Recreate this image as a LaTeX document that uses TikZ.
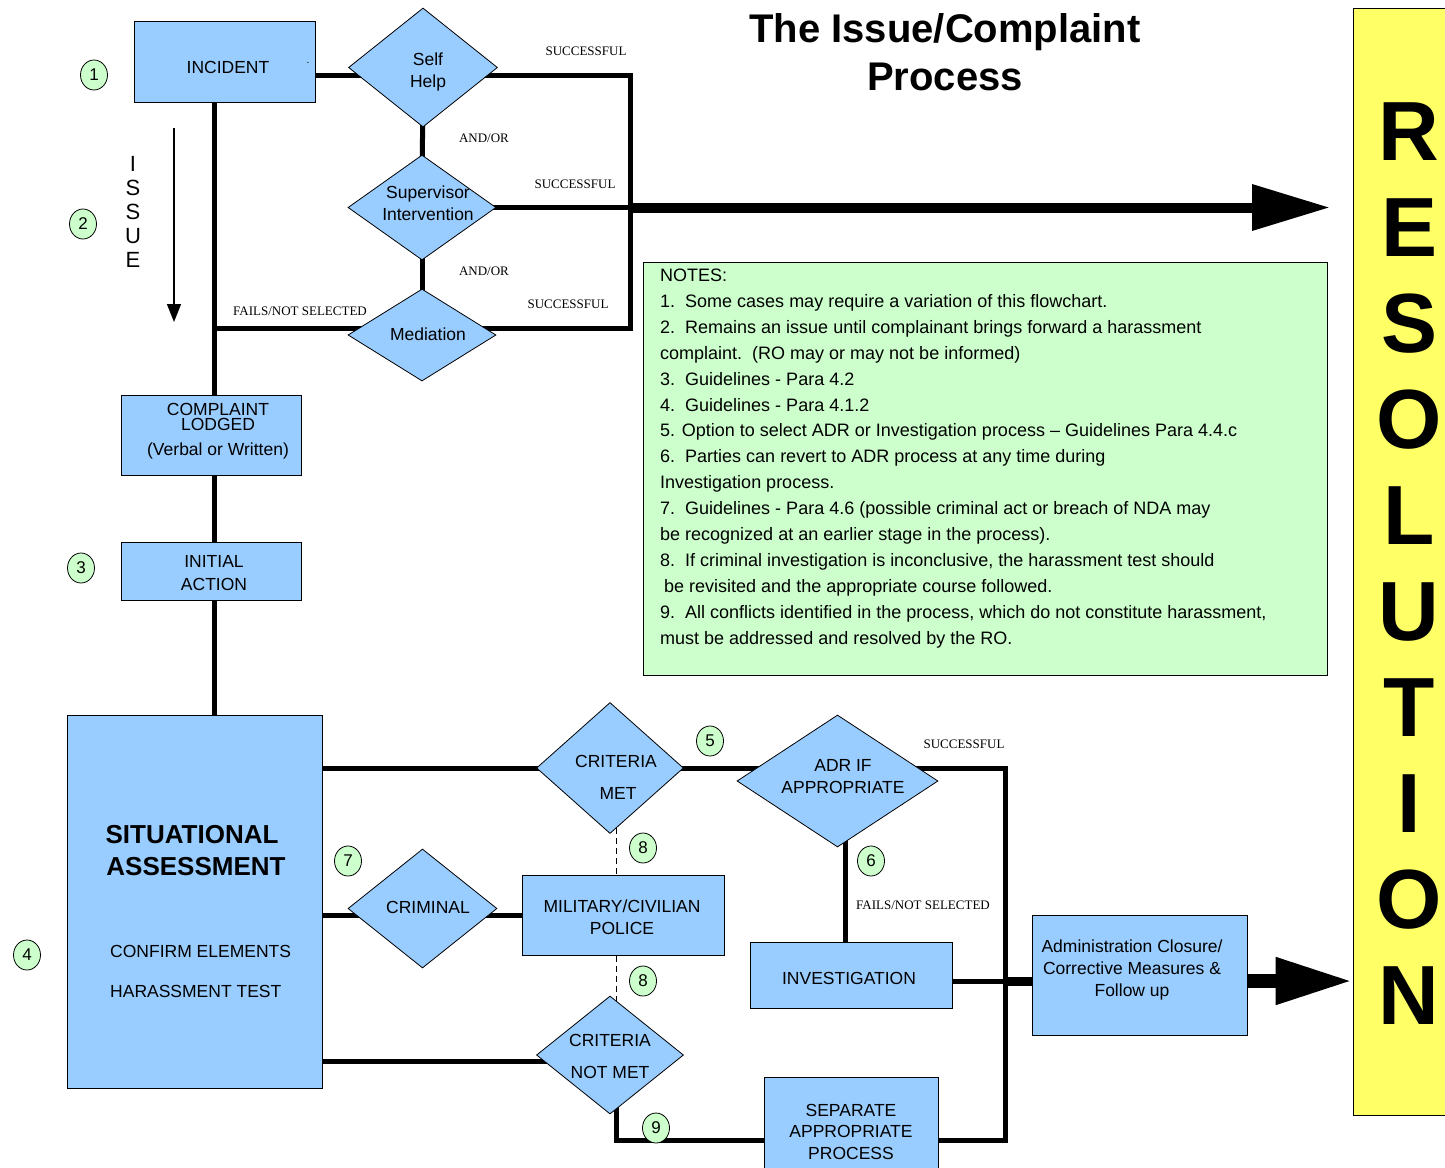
\documentclass[tikz,border=0pt]{standalone}
\usepackage{fontspec}
\setmainfont{Liberation Sans}
\newfontfamily\serifl{Liberation Serif}
\usetikzlibrary{shapes.geometric,arrows.meta,calc}
\definecolor{boxblue}{HTML}{99CCFF}
\definecolor{notegreen}{HTML}{CCFFCC}
\definecolor{resyellow}{HTML}{FFFF66}
\pgfdeclarelayer{bg}
\pgfsetlayers{bg,main}
\begin{document}
\begin{tikzpicture}[x=1pt,y=-1pt,
  boxnode/.style={draw, fill=boxblue, line width=1pt, inner sep=0pt},
  dia/.style={diamond, draw, fill=boxblue, line width=0.8pt, inner sep=0pt},
  txt/.style={font=\fontsize{17.5}{20}\selectfont, inner sep=0pt, anchor=base},
  bigtxt/.style={font=\bfseries\fontsize{26}{30}\selectfont, inner sep=0pt, anchor=base},
  small/.style={font=\serifl\fontsize{13}{15}\selectfont, inner sep=0pt, anchor=base},
  num/.style={ellipse, draw, fill=notegreen, line width=0.8pt, minimum width=27pt, minimum height=30pt, inner sep=0pt, font=\fontsize{17}{19}\selectfont},
  notetxt/.style={font=\fontsize{18}{20}\selectfont, inner sep=0pt, anchor=base west},
  reslet/.style={font=\bfseries\fontsize{84}{90}\selectfont, inner sep=0pt, anchor=base},
  conn/.style={line width=5pt, line join=miter},
]
\useasboundingbox (0,0) rectangle (1445,1167);

% ---------- boxes ----------
\node[boxnode, minimum width=181pt, minimum height=81pt] (inc) at (224.5,61.5) {};
\node[boxnode, minimum width=180pt, minimum height=80pt] (cl) at (211,435) {};
\node[boxnode, minimum width=180pt, minimum height=58pt] (ia) at (211,571) {};
\node[boxnode, minimum width=255pt, minimum height=373pt] (sa) at (194.5,901.5) {};
\node[boxnode, minimum width=202pt, minimum height=80pt] (mil) at (623,915) {};
\node[boxnode, minimum width=202pt, minimum height=66pt] (inv) at (851,975) {};
\node[boxnode, minimum width=215pt, minimum height=120pt] (adm) at (1139.5,975) {};
\node[boxnode, minimum width=174pt, minimum height=100pt] (sep) at (851,1127) {};
\node[draw, fill=notegreen, line width=1pt, inner sep=0pt, minimum width=684pt, minimum height=413pt] (notes) at (985,468.5) {};
\node[draw, fill=resyellow, line width=1pt, inner sep=0pt, minimum width=100pt, minimum height=1107pt] (res) at (1403,561.5) {};

% ---------- diamonds ----------
\node[dia, minimum width=149pt, minimum height=119pt] (sh) at (423,67.5) {};
\node[dia, minimum width=148pt, minimum height=105pt] (sv) at (422,207.5) {};
\node[dia, minimum width=148pt, minimum height=92pt] (med) at (422,335) {};
\node[dia, minimum width=147pt, minimum height=131pt] (cm) at (610,768) {};
\node[dia, minimum width=201pt, minimum height=132pt] (adr) at (837.5,781) {};
\node[dia, minimum width=149pt, minimum height=119pt] (crim) at (422.5,908.5) {};
\node[dia, minimum width=147pt, minimum height=118pt] (cnm) at (610,1055) {};

% ---------- junction coordinates ----------
\coordinate (j1) at (630,75);
\coordinate (j3) at (630,328);
\coordinate (a1) at (1330,207.5);
\coordinate (j5) at (1005,768);
\coordinate (j6) at (1005,1140);
\coordinate (j8) at (1005,981);
\coordinate (j9) at (537,1061);
\coordinate (j10) at (616,1140);
\coordinate (xv) at (845,900);
\coordinate (xl) at (214,300);
\coordinate (it) at (174,128);
\coordinate (ib) at (174,322);

% ---------- connectors ----------
\begin{pgfonlayer}{bg}
\draw[conn] (inc.east |- j1) -- (j1) -- (j3) -- (xl |- j3);
\draw[conn] (sv.center) -- (sv.center -| j1);
\draw[line width=10pt, -{Triangle[length=78pt,width=44pt]}] (sv.center -| j1) -- (a1);
\draw[conn] (sh.center) -- (sv.center);
\draw[conn] (sv.center) -- (med.center);
\draw[conn] (xl |- inc.south) -- (xl |- cl.north);
\draw[conn] (xl |- cl.south) -- (xl |- ia.north);
\draw[conn] (xl |- ia.south) -- (xl |- sa.north);
\draw[conn] (sa.east |- cm.center) -- (cm.center) -- (j5) -- (j6) -- (sep.east |- j6);
\draw[conn] (xv |- adr.center) -- (xv |- inv.north);
\draw[conn] (inv.east |- j8) -- (j8);
\draw[line width=9pt] (j8) -- (adm.west |- j8);
\draw[line width=14pt, -{Triangle[length=77pt,width=44pt]}] (adm.east |- j8) -- (res.west |- j8);
\draw[conn] (sa.east |- mil.west) -- (mil.west);
\draw[conn] (sa.east |- j9) -- (cnm.center |- j9);
\draw[conn] (j10 |- cnm.center) -- (j10) -- (sep.west |- j10);
\draw[line width=1pt, dash pattern=on 6pt off 4pt] (j10 |- cm.center) -- (j10 |- mil.north);
\draw[line width=1pt, dash pattern=on 6pt off 4pt] (j10 |- mil.south) -- (j10 |- cnm.center);
\end{pgfonlayer}
\draw[line width=1.2pt, -{Triangle[length=18pt,width=14pt]}] (it) -- (ib);

% ---------- texts ----------
\node[font=\bfseries\fontsize{40}{48}\selectfont, inner sep=0pt, anchor=base] (title1) at (945,42) {The Issue/Complaint};
\node[font=\bfseries\fontsize{40}{48}\selectfont, inner sep=0pt, anchor=base] (title2) at (945,90) {Process};

\node[txt] (inc-t) at (228,73) {INCIDENT};
\node[font=\fontsize{10}{12}\selectfont, inner sep=0pt, anchor=base] (dot) at (308,63) {.};
\node[txt] (sh-t1) at (428,65) {Self};
\node[txt] (sh-t2) at (428,87) {Help};
\node[txt] (sv-t1) at (428,198) {Supervisor};
\node[txt] (sv-t2) at (428,220) {Intervention};
\node[txt] (med-t) at (428,340) {Mediation};
\node[txt] (cl-t1) at (218,415) {COMPLAINT};
\node[txt] (cl-t2) at (218,430) {LODGED};
\node[txt] (cl-t3) at (218,455) {(Verbal or Written)};
\node[txt] (ia-t1) at (214,567) {INITIAL};
\node[txt] (ia-t2) at (214,590) {ACTION};
\node[bigtxt] (sa-t1) at (192,843.5) {SITUATIONAL};
\node[bigtxt] (sa-t2) at (196,875.5) {ASSESSMENT};
\node[txt, anchor=base west] (sa-t3) at (110,957) {CONFIRM ELEMENTS};
\node[txt, anchor=base west] (sa-t4) at (110,997) {HARASSMENT TEST};
\node[txt] (cm-t1) at (616,767) {CRITERIA};
\node[txt] (cm-t2) at (618,799) {MET};
\node[txt] (adr-t1) at (843,771) {ADR IF};
\node[txt] (adr-t2) at (843,793) {APPROPRIATE};
\node[txt] (crim-t) at (428,913) {CRIMINAL};
\node[txt] (mil-t1) at (622,912) {MILITARY/CIVILIAN};
\node[txt] (mil-t2) at (622,934) {POLICE};
\node[txt] (inv-t) at (849,984) {INVESTIGATION};
\node[txt] (adm-t1) at (1132,952) {Administration Closure/};
\node[txt] (adm-t2) at (1132,974) {Corrective Measures \&};
\node[txt] (adm-t3) at (1132,996) {Follow up};
\node[txt] (cnm-t1) at (610,1046) {CRITERIA};
\node[txt] (cnm-t2) at (610,1078) {NOT MET};
\node[txt] (sep-t1) at (851,1116) {SEPARATE};
\node[txt] (sep-t2) at (851,1137) {APPROPRIATE};
\node[txt] (sep-t3) at (851,1159) {PROCESS};

\foreach \l/\y [count=\i] in {I/163,S/187,S/211,U/235,E/259}
  \node[font=\fontsize{22}{24}\selectfont, inner sep=0pt, anchor=base] (issue\i) at (133,\y+8) {\l};

\node[small] (s1) at (586,55) {SUCCESSFUL};
\node[small] (s2) at (575,188) {SUCCESSFUL};
\node[small] (s3) at (568,308) {SUCCESSFUL};
\node[small] (s4) at (964,748) {SUCCESSFUL};
\node[small] (ao1) at (484,142) {AND/OR};
\node[small] (ao2) at (484,275) {AND/OR};
\node[small] (f1) at (300,315) {FAILS/NOT SELECTED};
\node[small] (f2) at (923,909) {FAILS/NOT SELECTED};

\node[num] (n1) at (94,75) {1};
\node[num] (n2) at (83,224) {2};
\node[num] (n3) at (81,568) {3};
\node[num] (n4) at (27,955) {4};
\node[num] (n5) at (710,741) {5};
\node[num] (n6) at (871,861) {6};
\node[num] (n7) at (348,861) {7};
\node[num] (n8a) at (643,848) {8};
\node[num] (n8b) at (643,981) {8};
\node[num] (n9) at (656,1128) {9};

\foreach \t [count=\i] in {
  {NOTES:},
  {1.\ \ Some cases may require a variation of this flowchart.},
  {2.\ \ Remains an issue until complainant brings forward a harassment},
  {complaint.\ \ (RO may or may not be informed)},
  {3.\ \ Guidelines - Para 4.2},
  {4.\ \ Guidelines - Para 4.1.2},
  {5. Option to select ADR or Investigation process \textendash{} Guidelines Para 4.4.c},
  {6.\ \ Parties can revert to ADR process at any time during},
  {Investigation process.},
  {7.\ \ Guidelines - Para 4.6 (possible criminal act or breach of NDA may},
  {be recognized at an earlier stage in the process).},
  {8.\ \ If criminal investigation is inconclusive, the harassment test should},
  {\hspace{4pt}be revisited and the appropriate course followed.},
  {9.\ \ All conflicts identified in the process, which do not constitute harassment,},
  {must be addressed and resolved by the RO.}}
  \node[notetxt] (note\i) at (660,{281.5+25.9*(\i-1)}) {\t};

\foreach \l [count=\i] in {R,E,S,O,L,U,T,I,O,N}
  \node[reslet] (res\i) at (1409,{160+96*(\i-1)}) {\l};
\end{tikzpicture}
\end{document}
